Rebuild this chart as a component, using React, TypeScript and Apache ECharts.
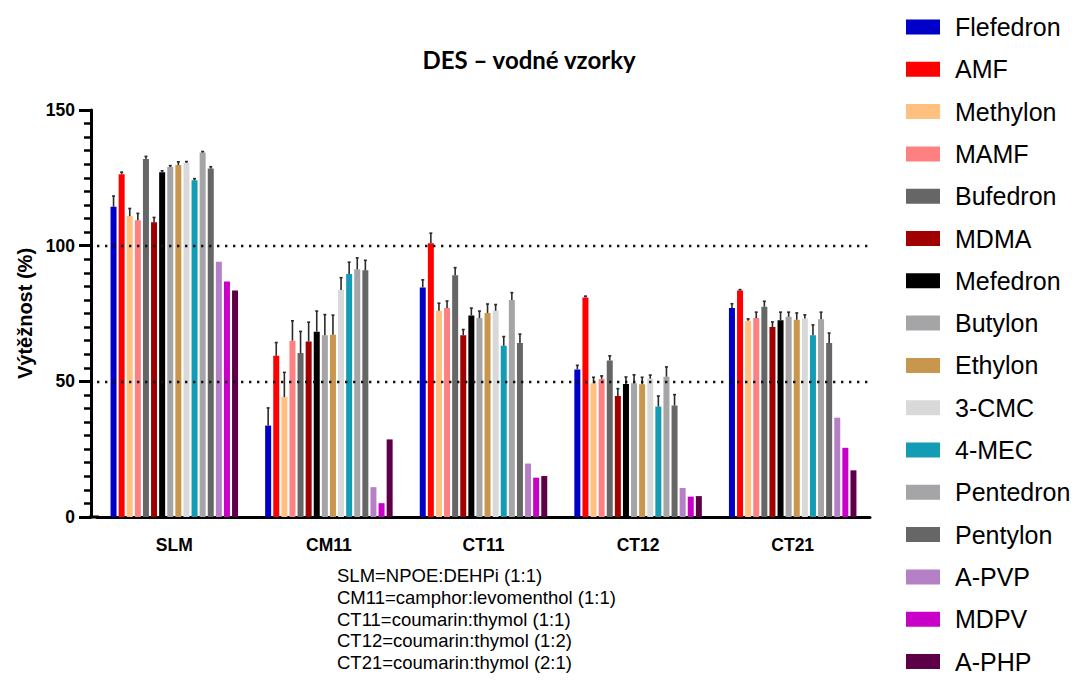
import React, { useEffect, useRef } from "react";
import * as echarts from "echarts";

// Extraction media (x axis)
const categories = ["SLM", "CM11", "CT11", "CT12", "CT21"];

// Analytes (one bar series each)
const analytes = [
  "Flefedron", "AMF", "Methylon", "MAMF", "Bufedron", "MDMA", "Mefedron", "Butylon",
  "Ethylon", "3-CMC", "4-MEC", "Pentedron", "Pentylon", "A-PVP", "MDPV", "A-PHP",
];

const colors = [
  "#0000C8", "#FF0000", "#FFC080", "#FF8080", "#666666", "#A00000", "#000000", "#A5A5A8",
  "#C9964E", "#D9D9D9", "#149CB4", "#A5A5A8", "#666666", "#B580C6", "#C800C8", "#5E0048",
];

// Recovery (%) per medium, in analyte order
const recoverySLM = [114.3, 126.3, 110.9, 109.4, 131.9, 108.6, 127.1, 129.0, 129.7, 130.5, 124.1, 134.3, 128.4, 94.1, 86.8, 83.5];
const recoveryCM11 = [33.7, 59.4, 44.2, 65.0, 60.4, 64.7, 68.3, 67.0, 67.2, 83.7, 89.6, 91.3, 90.9, 11.0, 5.1, 28.6];
const recoveryCT11 = [84.6, 100.9, 76.0, 77.0, 89.1, 67.0, 74.3, 73.3, 75.2, 76.0, 63.1, 80.0, 64.1, 19.7, 14.5, 15.1];
const recoveryCT12 = [54.4, 80.9, 49.3, 50.9, 57.7, 44.6, 49.0, 49.3, 48.9, 51.0, 40.7, 51.7, 41.1, 10.7, 7.5, 7.7];
const recoveryCT21 = [77.0, 83.5, 72.3, 73.3, 77.5, 70.0, 72.5, 73.8, 72.7, 73.2, 67.0, 72.9, 64.1, 36.6, 25.5, 17.2];

// Standard deviations (upper error bars)
const sdSLM = [4.0, 0.8, 2.8, 2.5, 1.0, 1.8, 0.5, 0.5, 1.2, 0.5, 0.6, 0.4, 0.7, 0, 0, 0];
const sdCM11 = [6.5, 4.9, 9.1, 7.3, 8.0, 7.1, 7.6, 7.6, 7.2, 4.5, 4.3, 4.2, 3.7, 0, 0, 0];
const sdCT11 = [2.8, 3.7, 2.8, 2.6, 2.8, 2.1, 2.7, 2.6, 3.3, 2.3, 3.4, 2.7, 3.3, 0, 0, 0];
const sdCT12 = [1.5, 0.5, 2.2, 1.1, 1.7, 2.7, 2.6, 3.1, 2.6, 1.3, 3.9, 3.6, 4.0, 0, 0, 0];
const sdCT21 = [1.6, 0.3, 0.7, 2.2, 2.0, 1.9, 3.0, 1.7, 2.5, 1.3, 3.8, 2.6, 3.7, 0, 0, 0];

const referenceLines = [50, 100];
const yTicks = { min: 0, max: 150, interval: 50 };

const categoryNotes = [
  "SLM=NPOE:DEHPi (1:1)",
  "CM11=camphor:levomenthol (1:1)",
  "CT11=coumarin:thymol (1:1)",
  "CT12=coumarin:thymol (1:2)",
  "CT21=coumarin:thymol (2:1)",
];

const recoveryByMedium = [recoverySLM, recoveryCM11, recoveryCT11, recoveryCT12, recoveryCT21];
const sdByMedium = [sdSLM, sdCM11, sdCT11, sdCT12, sdCT21];

const BAR_WIDTH = 6;
const BAR_GAP_PX = 2.1;
const FONT = "Liberation Sans, Arial, sans-serif";

export default function App() {
  const ref = useRef<HTMLDivElement>(null);

  useEffect(() => {
    if (!ref.current) return;
    const chart = echarts.init(ref.current, null, { renderer: "svg" });

    const barSeries = analytes.map((name, i) => ({
      name,
      type: "bar",
      barWidth: BAR_WIDTH,
      barGap: `${(BAR_GAP_PX / BAR_WIDTH) * 100}%`,
      itemStyle: { color: colors[i] },
      z: 3,
      data: categories.map((_, c) => recoveryByMedium[c][i]),
    }));

    const errorData: number[][] = [];
    categories.forEach((_, c) => {
      analytes.forEach((__, i) => {
        const sd = sdByMedium[c][i];
        if (sd > 0) errorData.push([c, recoveryByMedium[c][i], sd, i]);
      });
    });

    const slot = BAR_WIDTH + BAR_GAP_PX;
    const n = analytes.length;

    const errorSeries = {
      type: "custom",
      name: "sd",
      z: 4,
      silent: true,
      data: errorData,
      renderItem: (_params: any, api: any) => {
        const c = api.value(0);
        const v = api.value(1);
        const sd = api.value(2);
        const i = api.value(3);
        const dx = (i - (n - 1) / 2) * slot;
        const base = api.coord([c, v]);
        const top = api.coord([c, v + sd]);
        const x = base[0] + dx;
        const style = { stroke: "#2a2a2a", lineWidth: 1.6 };
        return {
          type: "group",
          children: [
            { type: "line", shape: { x1: x, y1: base[1], x2: x, y2: top[1] }, style },
            { type: "line", shape: { x1: x - 1.5, y1: top[1], x2: x + 1.5, y2: top[1] }, style },
          ],
        };
      },
    };

    const refLineSeries = {
      type: "line",
      name: "ref",
      data: [],
      z: 1,
      silent: true,
      markLine: {
        silent: true,
        symbol: "none",
        label: { show: false },
        lineStyle: { color: "#111", width: 2.4, type: [2.4, 5.6] },
        data: referenceLines.map((y) => ({ yAxis: y })),
      },
    };

    chart.setOption({
      animation: false,
      backgroundColor: "#ffffff",
      title: {
        text: "DES – vodné vzorky",
        left: 524,
        textAlign: "center",
        top: 42,
        textStyle: { fontFamily: "Lato, Open Sans, sans-serif", fontWeight: "bold", fontSize: 24, color: "#000" },
      },
      legend: {
        data: analytes,
        orient: "vertical",
        left: 901,
        top: 9.5,
        icon: "rect",
        itemWidth: 34,
        itemHeight: 15,
        itemGap: 17.3,
        textStyle: { fontFamily: FONT, fontSize: 25, lineHeight: 25, color: "#000", padding: [0, 0, 0, 10] },
      },
      grid: { left: 97, right: 212, top: 110, bottom: 167 },
      xAxis: {
        type: "category",
        data: categories,
        axisLine: { lineStyle: { color: "#000", width: 3 } },
        axisTick: { alignWithLabel: true, length: 12, lineStyle: { color: "#000", width: 3 } },
        axisLabel: { fontFamily: FONT, fontWeight: "bold", fontSize: 17.5, color: "#000", margin: 19 },
      },
      yAxis: {
        type: "value",
        min: yTicks.min,
        max: yTicks.max,
        interval: yTicks.interval,
        offset: 6,
        name: "Výtěžnost (%)",
        nameLocation: "middle",
        nameGap: 54,
        nameTextStyle: { fontFamily: FONT, fontWeight: "bold", fontSize: 20, color: "#000" },
        axisLine: { show: true, lineStyle: { color: "#000", width: 3 } },
        axisTick: { show: true, length: 12, lineStyle: { color: "#000", width: 3 } },
        minorTick: { show: true, splitNumber: 10, length: 7, lineStyle: { color: "#000", width: 2.5 } },
        splitLine: { show: false },
        axisLabel: { fontFamily: FONT, fontWeight: "bold", fontSize: 17.5, color: "#000", margin: 16 },
      },
      graphic: [
        // joins the offset y axis to the x axis line
        { type: "rect", shape: { x: 89, y: 515.5, width: 10, height: 3 }, style: { fill: "#000" }, z: 10 },
        {
          type: "text",
          left: 337,
          top: 565,
          style: {
            text: categoryNotes.join("\n"),
            font: `18.5px ${FONT}`,
            lineHeight: 21.7,
            fill: "#000",
          },
        },
      ],
      series: [refLineSeries, ...barSeries, errorSeries],
    });

    return () => chart.dispose();
  }, []);

  return (
    <div
      ref={ref}
      style={{ position: "fixed", left: 0, top: 0, width: 1082, height: 684, background: "#fff" }}
    />
  );
}
